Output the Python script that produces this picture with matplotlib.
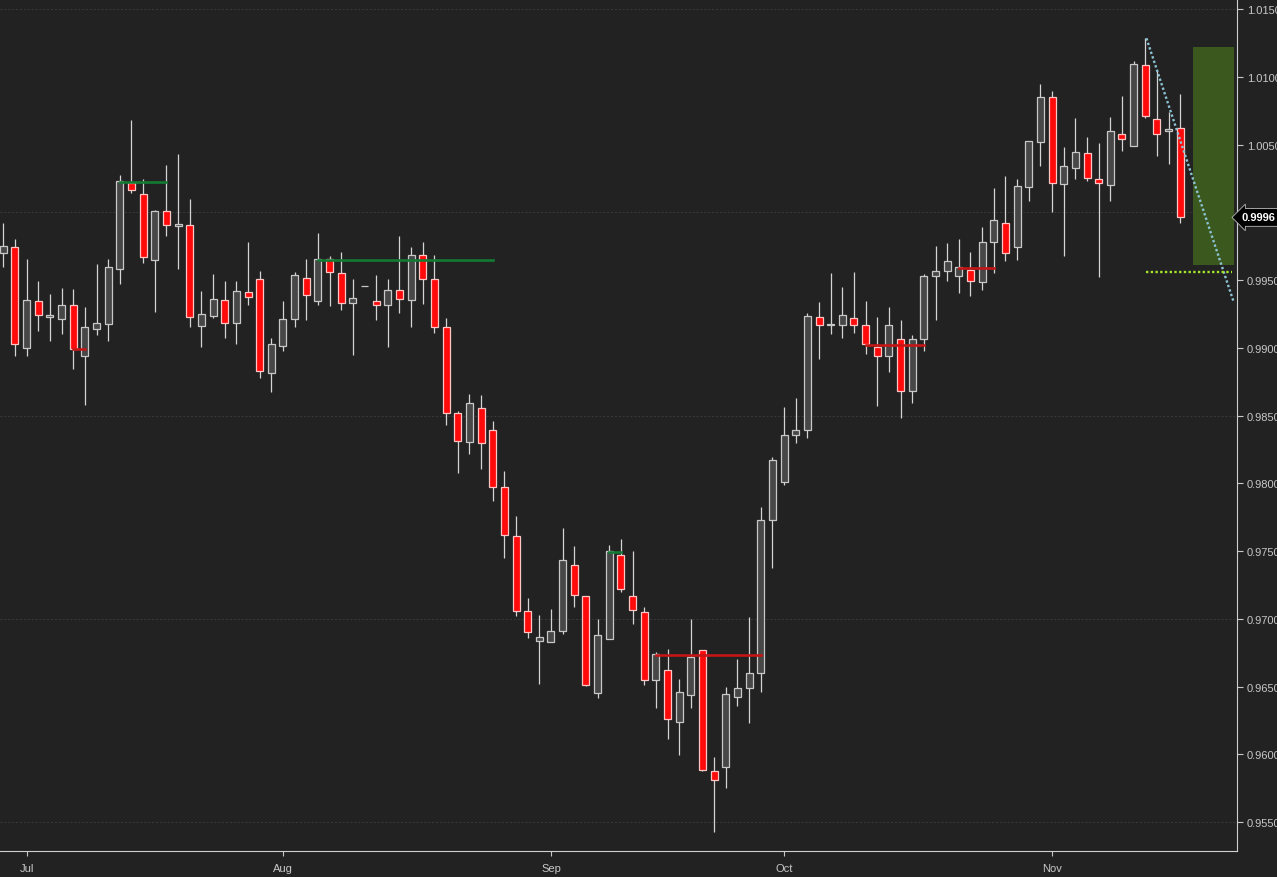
import numpy as np
import matplotlib
matplotlib.use("Agg")
import matplotlib.pyplot as plt
import matplotlib.transforms as mtransforms

plt.rcParams['font.family'] = ['Liberation Sans', 'DejaVu Sans']

# Daily candles (index = trading day)
opens = [0.99699, 0.99741, 0.98996, 0.99343, 0.99229, 0.99214, 0.99313, 0.98937, 0.99141, 0.99178,
         0.99583, 1.00216, 1.00132, 0.99650, 1.00007, 0.99896, 0.99904, 0.99163, 0.99237, 0.99350,
         0.99180, 0.99409, 0.99505, 0.98811, 0.99015, 0.99210, 0.99513, 0.99343, 0.99653, 0.99549,
         0.99328, 0.99454, 0.99343, 0.99313, 0.99424, 0.99350, 0.99682, 0.99505, 0.99151, 0.98518,
         0.98302, 0.98553, 0.98391, 0.97970, 0.97609, 0.97055, 0.96834, 0.96826, 0.96907, 0.97395,
         0.97166, 0.96450, 0.96848, 0.97468, 0.97166, 0.97048, 0.96546, 0.96620, 0.96236, 0.96435,
         0.96767, 0.95874, 0.95904, 0.96420, 0.96487, 0.96598, 0.97727, 0.98007, 0.98354, 0.98391,
         0.99229, 0.99166, 0.99166, 0.99217, 0.99166, 0.99003, 0.98937, 0.99062, 0.98683, 0.99062,
         0.99527, 0.99564, 0.99527, 0.99572, 0.99483, 0.99778, 0.99918, 0.99741, 1.00184, 1.00516,
         1.00848, 1.00206, 1.00324, 1.00435, 1.00243, 1.00199, 1.00575, 1.00487, 1.01085, 1.00686,
         1.00597, 1.00620]
highs = [0.99921, 0.99803, 0.99655, 0.99490, 0.99397, 0.99441, 0.99434, 0.99301, 0.99618, 0.99655,
         1.00273, 1.00681, 1.00243, 1.00017, 1.00349, 1.00430, 1.00098, 0.99419, 0.99544, 0.99493,
         0.99493, 0.99780, 0.99564, 0.99072, 0.99343, 0.99559, 0.99655, 0.99847, 0.99677, 0.99707,
         0.99507, 0.99454, 0.99537, 0.99507, 0.99825, 0.99744, 0.99780, 0.99685, 0.99217, 0.98535,
         0.98659, 0.98651, 0.98457, 0.98088, 0.97756, 0.97151, 0.97026, 0.97070, 0.97668, 0.97535,
         0.97170, 0.96996, 0.97542, 0.97586, 0.97498, 0.97085, 0.96752, 0.96777, 0.96553, 0.96998,
         0.96770, 0.95978, 0.96494, 0.96701, 0.97011, 0.97823, 0.98192, 0.98563, 0.98629, 0.99254,
         0.99338, 0.99552, 0.99448, 0.99559, 0.99343, 0.99225, 0.99299, 0.99205, 0.99092, 0.99542,
         0.99751, 0.99773, 0.99803, 0.99707, 0.99891, 1.00177, 1.00268, 1.00243, 1.00524, 1.00944,
         1.00893, 1.00479, 1.00693, 1.00553, 1.00509, 1.00701, 1.00856, 1.01114, 1.01284, 1.01048,
         1.00738, 1.00870]
lows = [0.99596, 0.98941, 0.98941, 0.99126, 0.99052, 0.99102, 0.98845, 0.98580, 0.99096, 0.99052,
        0.99473, 1.00144, 0.99628, 0.99266, 0.99827, 0.99583, 0.99155, 0.99008, 0.99220, 0.99074,
        0.99030, 0.99318, 0.98779, 0.98676, 0.98978, 0.99155, 0.99207, 0.99318, 0.99310, 0.99281,
        0.98949, 0.99454, 0.99207, 0.99008, 0.99259, 0.99155, 0.99325, 0.99111, 0.98432, 0.98078,
        0.98218, 0.98107, 0.97871, 0.97451, 0.97023, 0.96860, 0.96521, 0.96826, 0.96885, 0.97085,
        0.96506, 0.96417, 0.96848, 0.97195, 0.96959, 0.96513, 0.96344, 0.96115, 0.95997, 0.96344,
        0.95880, 0.95424, 0.95749, 0.96358, 0.96233, 0.96457, 0.97377, 0.97985, 0.98295, 0.98332,
        0.98919, 0.99104, 0.99074, 0.99111, 0.98956, 0.98568, 0.98823, 0.98479, 0.98590, 0.98974,
        0.99203, 0.99490, 0.99402, 0.99380, 0.99424, 0.99549, 0.99638, 0.99645, 1.00085, 1.00339,
        1.00004, 0.99679, 1.00243, 1.00228, 0.99524, 1.00081, 1.00450, 1.00487, 1.00693, 1.00417,
        1.00358, 0.99918]
closes = [0.99751, 0.99026, 0.99350, 0.99240, 0.99240, 0.99313, 0.98989, 0.99151, 0.99180, 0.99594,
          1.00228, 1.00162, 0.99668, 1.00007, 0.99904, 0.99911, 0.99225, 0.99247, 0.99358, 0.99180,
          0.99417, 0.99372, 0.98826, 0.99026, 0.99210, 0.99535, 0.99387, 0.99653, 0.99557, 0.99328,
          0.99365, 0.99454, 0.99313, 0.99424, 0.99358, 0.99682, 0.99505, 0.99151, 0.98516, 0.98310,
          0.98590, 0.98295, 0.97970, 0.97616, 0.97055, 0.96900, 0.96863, 0.96907, 0.97431, 0.97173,
          0.96513, 0.96878, 0.97498, 0.97217, 0.97062, 0.96546, 0.96738, 0.96258, 0.96457, 0.96716,
          0.95882, 0.95808, 0.96442, 0.96487, 0.96598, 0.97727, 0.98169, 0.98354, 0.98391, 0.99232,
          0.99166, 0.99178, 0.99240, 0.99166, 0.99026, 0.98937, 0.99166, 0.98683, 0.99062, 0.99527,
          0.99564, 0.99638, 0.99594, 0.99490, 0.99778, 0.99941, 0.99697, 1.00192, 1.00524, 1.00848,
          1.00214, 1.00339, 1.00442, 1.00251, 1.00214, 1.00597, 1.00538, 1.01092, 1.00708, 1.00575,
          1.00612, 0.99962]

month_idx = [2, 24, 47, 67, 90]
month_labels = ['Jul', 'Aug', 'Sep', 'Oct', 'Nov']

price_ticks = [0.9550, 0.9600, 0.9650, 0.9700, 0.9750, 0.9800, 0.9850,
               0.9900, 0.9950, 1.0000, 1.0050, 1.0100, 1.0150]
hidden_tick = 1.0000   # covered by the last-price flag
grid_levels = [0.9550, 0.9700, 0.9850, 1.0000, 1.0150]

# horizontal level markers: (start index, end index, price, kind)
levels = [(6, 7, 0.98989, 'red'), (10, 14, 1.00225, 'green'), (27, 42, 0.99648, 'green'),
          (52, 53, 0.97495, 'green'), (56, 65, 0.96735, 'red'), (74, 79, 0.99023, 'red'),
          (82, 85, 0.99591, 'red')]

# projection box and lines at the right
box_x = [102.1, 105.6]
box_y = [0.99613, 1.01217]
trend_x = [98.1, 105.6]
trend_y = [1.01284, 0.99334]
target_x = [98.1, 105.4]
target_y = 0.99559

bg = '#222222'
fig = plt.figure(figsize=(12.77, 8.78), dpi=100, facecolor=bg)
ax = fig.add_axes([0, 26 / 878, 1237 / 1277, 852 / 878])
ax.set_facecolor(bg)

x = np.arange(len(opens))
o = np.array(opens)
c = np.array(closes)
up = c >= o

for g in grid_levels:
    ax.axhline(g, color='#3a3a3a', lw=0.7, ls=(0, (2, 2)), zorder=0)

ax.vlines(x, lows, highs, color='#d4d4d4', lw=0.9, zorder=1)
body_lo = np.minimum(o, c)
body_h = np.abs(c - o)
ax.bar(x[up], body_h[up], bottom=body_lo[up], width=0.6, color='#474747',
       edgecolor='#c8c8c8', linewidth=0.9, zorder=2)
ax.bar(x[~up], body_h[~up], bottom=body_lo[~up], width=0.6, color='#ff0a0a',
       edgecolor='#ffc4c4', linewidth=0.9, zorder=2)

lvl_colors = {'red': '#c41616', 'green': '#137a34'}
for x0, x1, p, kind in levels:
    ax.plot([x0, x1], [p, p], color=lvl_colors[kind], lw=1.9, zorder=3)

ax.fill_between(box_x, box_y[0], box_y[1], color='#3b581f', lw=0, zorder=1)
ax.plot(trend_x, trend_y, color='#8cc3d4', lw=1.7, ls=(0, (1, 1)), zorder=4)
ax.plot(target_x, [target_y, target_y], color='#a6e62a', lw=1.7, ls=(0, (1, 1)), zorder=4)

ax.set_xlim(-0.283, 105.87)
ax.set_ylim(0.95286, 1.01574)

ax.yaxis.tick_right()
ax.set_yticks(price_ticks)
ax.set_yticklabels(['' if t == hidden_tick else '%.4f' % t for t in price_ticks])
ax.set_xticks(month_idx)
ax.set_xticklabels(month_labels)
ax.tick_params(axis='y', colors='#c8c8c8', labelcolor='#c8c8c8', length=4, width=0.8,
               labelsize=8, pad=3)
ax.tick_params(axis='x', colors='#c8c8c8', labelcolor='#c8c8c8', length=3.5, width=0.8,
               labelsize=8, pad=5)
for side in ['left', 'top']:
    ax.spines[side].set_visible(False)
for side in ['right', 'bottom']:
    ax.spines[side].set_color('#d0d0d0')
    ax.spines[side].set_linewidth(0.8)

# last price flag
trans = mtransforms.blended_transform_factory(ax.transAxes, ax.transData)
trans = trans + mtransforms.ScaledTranslation(0.05, 0, fig.dpi_scale_trans)
ax.text(1.0, closes[-1], '%.4f' % closes[-1], transform=trans, ha='left', va='center',
        color='white', fontsize=8, fontweight='bold', clip_on=False, zorder=6,
        bbox=dict(boxstyle='larrow,pad=0.35', fc='black', ec='#bbbbbb', lw=0.6))

fig.savefig('out.png', dpi=100, facecolor=bg)
